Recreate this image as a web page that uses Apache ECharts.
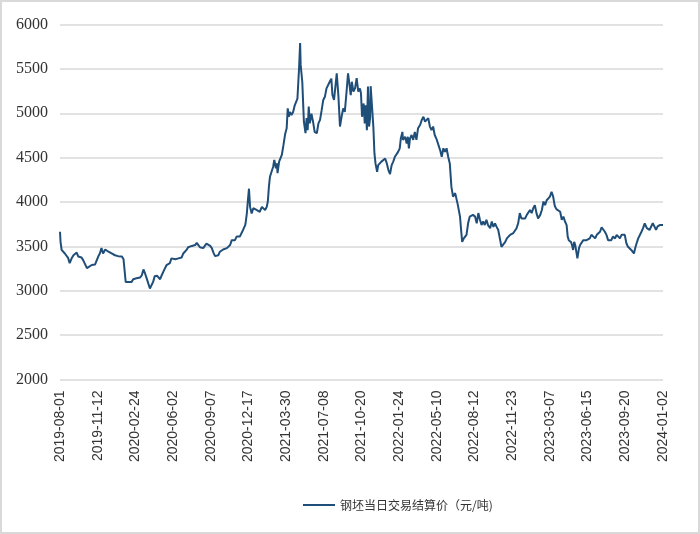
<!DOCTYPE html>
<html>
<head>
<meta charset="utf-8">
<script src="https://cdn.jsdelivr.net/npm/echarts@6/dist/echarts.min.js"></script>
<style>
html,body{margin:0;padding:0;background:#fff;}
#wrap{width:700px;height:534px;box-sizing:border-box;border:2px solid #d9d9d9;position:relative;}
#chart{position:absolute;left:-2px;top:-2px;width:700px;height:534px;}
</style>
</head>
<body>
<div id="wrap"><div id="chart"></div></div>
<script>
// tick labels every 70 trading days
const tickLabels = ['2019-08-01','2019-11-12','2020-02-24','2020-06-02','2020-09-07','2020-12-17','2021-03-30','2021-07-08','2021-10-20','2022-01-24','2022-05-10','2022-08-12','2022-11-23','2023-03-07','2023-06-15','2023-09-20','2024-01-02'];
const seriesName = '钢坯当日交易结算价（元/吨)';
// trading-day index of each sample
const days = [0,1,3,6,9,12,15,18,22,25,28,31,34,37,40,43,46,50,53,59,65,68,71,74,77,80,84,87,90,96,102,108,115,118,121,122,124,127,130,133,136,139,142,145,149,152,155,158,161,164,167,170,173,176,180,183,186,189,192,195,198,201,204,207,210,214,217,220,223,226,229,232,235,238,241,245,248,251,254,257,260,263,266,269,272,275,279,282,285,288,291,294,297,300,303,306,310,313,316,319,322,325,328,331,334,337,340,344,345,347,349,351,353,356,359,362,365,368,371,375,378,381,384,386,388,390,393,396,398,401,403,404,407,410,412,415,418,421,423,425,427,430,433,436,439,441,444,446,447,450,452,453,456,458,460,462,464,467,470,473,477,480,483,486,489,492,495,498,501,504,506,509,512,514,517,520,523,526,529,532,535,537,540,542,545,548,551,554,557,559,561,564,566,568,570,572,574,576,577,580,582,584,586,589,591,594,597,600,604,607,610,613,616,619,622,625,628,631,633,636,637,641,644,646,648,650,653,656,659,662,665,669,672,675,678,681,684,687,690,693,696,699,702,706,709,712,715,718,721,724,727,730,734,737,739,741,743,745,747,750,752,755,758,761,764,767,771,774,777,780,783,786,789,792,795,799,802,805,808,811,814,817,820,823,827,830,833,836,839,842,845,848,851,854,857,860,864,867,870,873,876,879,882,885,888,892,895,898,901,904,907,910,913,916,919,922,925,929,932,935,938,941,943,945,949,951,953,955,957,959,961,964,966,969,972,975,978,981,984,987,990,994,997,1000,1003,1006,1009,1012,1015,1018,1021,1024,1027,1031,1034,1037,1040,1043,1046,1049,1052,1055,1058,1061,1064,1066,1069,1071,1074,1077,1080,1083,1086,1088,1090,1092,1095,1098,1101,1104,1107,1110,1114,1117,1120];
const prices = [3665,3552,3460,3450,3420,3400,3370,3310,3370,3400,3420,3430,3385,3365,3375,3345,3330,3255,3270,3290,3295,3310,3385,3420,3480,3420,3465,3460,3440,3420,3400,3390,3385,3355,3365,3100,3085,3100,3120,3100,3130,3115,3140,3120,3150,3175,3240,3195,3140,3120,3025,3045,3100,3165,3170,3160,3130,3175,3215,3235,3290,3270,3310,3365,3375,3355,3345,3365,3355,3375,3420,3420,3460,3490,3480,3505,3490,3515,3540,3515,3490,3505,3480,3490,3530,3535,3505,3480,3430,3390,3375,3400,3440,3460,3465,3460,3480,3490,3515,3570,3590,3570,3610,3590,3610,3630,3685,3740,3775,3870,4020,4150,3945,3870,3930,3940,3910,3920,3890,3945,3935,3910,3945,4005,4170,4285,4305,4400,4475,4380,4435,4325,4455,4475,4530,4640,4760,4830,5055,4960,5015,4980,5015,5090,5090,5165,5505,5790,5545,5355,5055,4905,4775,4945,4810,5075,4885,4995,4905,4790,4775,4885,4925,5035,5150,5185,5280,5260,5355,5390,5205,5150,5130,5450,5205,4850,4960,5055,5015,5225,5450,5355,5205,5355,5245,5280,5395,5245,5280,5225,4960,5110,4885,5090,4810,5300,4850,4945,5305,5300,4850,4550,4435,4340,4415,4395,4455,4455,4490,4435,4360,4315,4415,4455,4510,4490,4565,4605,4715,4790,4700,4735,4660,4735,4605,4715,4755,4700,4790,4700,4830,4870,4925,4960,4905,4925,4945,4850,4810,4850,4755,4715,4735,4585,4510,4605,4565,4605,4510,4435,4170,4060,4100,4100,3965,3965,3835,3685,3550,3590,3610,3630,3760,3835,3835,3855,3835,3760,3875,3800,3740,3780,3740,3800,3740,3705,3780,3720,3760,3720,3685,3665,3495,3515,3550,3590,3610,3630,3610,3650,3665,3705,3760,3875,3815,3835,3815,3855,3875,3910,3875,3930,3965,3875,3815,3855,3910,4005,3965,4020,4005,4060,4115,4060,3955,3920,3930,3890,3800,3835,3780,3740,3610,3570,3550,3515,3460,3550,3515,3440,3365,3480,3515,3535,3570,3550,3570,3550,3590,3630,3610,3590,3630,3610,3665,3715,3690,3665,3630,3570,3590,3570,3610,3590,3630,3650,3590,3630,3610,3630,3535,3495,3480,3460,3480,3420,3495,3535,3590,3610,3665,3705,3760,3780,3705,3725,3685,3705,3760,3725,3685,3725,3740,3730,3740];
const yTicks = {min:2000, max:6000, interval:500};

const lineData = days.map((d,i)=>[d, prices[i]]);
const chart = echarts.init(document.getElementById('chart'), null, {renderer:'canvas'});
chart.setOption({
  animation:false,
  backgroundColor:'transparent',
  grid:{left:60, right:37, top:24.5, bottom:154.5, containLabel:false},
  legend:{
    data:[seriesName], left:298, top:494, itemWidth:32, itemHeight:10, itemGap:6,
    icon:'path://M0,4 L32,4 L32,6 L0,6 Z',
    textStyle:{fontSize:12, color:'#333', fontFamily:'"Noto Sans CJK SC", sans-serif'}
  },
  xAxis:{
    type:'value', min:0, max:(tickLabels.length-1)*70, interval:70,
    axisLine:{show:false}, axisTick:{show:false}, splitLine:{show:false},
    axisLabel:{
      rotate:90, margin:11, fontSize:14, color:'#333', fontFamily:'"Liberation Sans", Arial, sans-serif',
      showMinLabel:true, showMaxLabel:true,
      formatter:v=>tickLabels[Math.round(v/70)]
    }
  },
  yAxis:{
    type:'value', min:yTicks.min, max:yTicks.max, interval:yTicks.interval,
    axisLine:{show:false}, axisTick:{show:false},
    splitLine:{lineStyle:{color:'#d9d9d9', width:1.5}},
    axisLabel:{fontSize:16, color:'#333', margin:12, fontFamily:'"Liberation Serif", "Times New Roman", serif',
      formatter:v=>String(v)}
  },
  series:[{
    name:seriesName, type:'line', data:lineData, showSymbol:false, symbol:'none',
    lineStyle:{color:'#1f4e79', width:2}, itemStyle:{color:'#1f4e79'}
  }]
});
</script>
</body>
</html>
